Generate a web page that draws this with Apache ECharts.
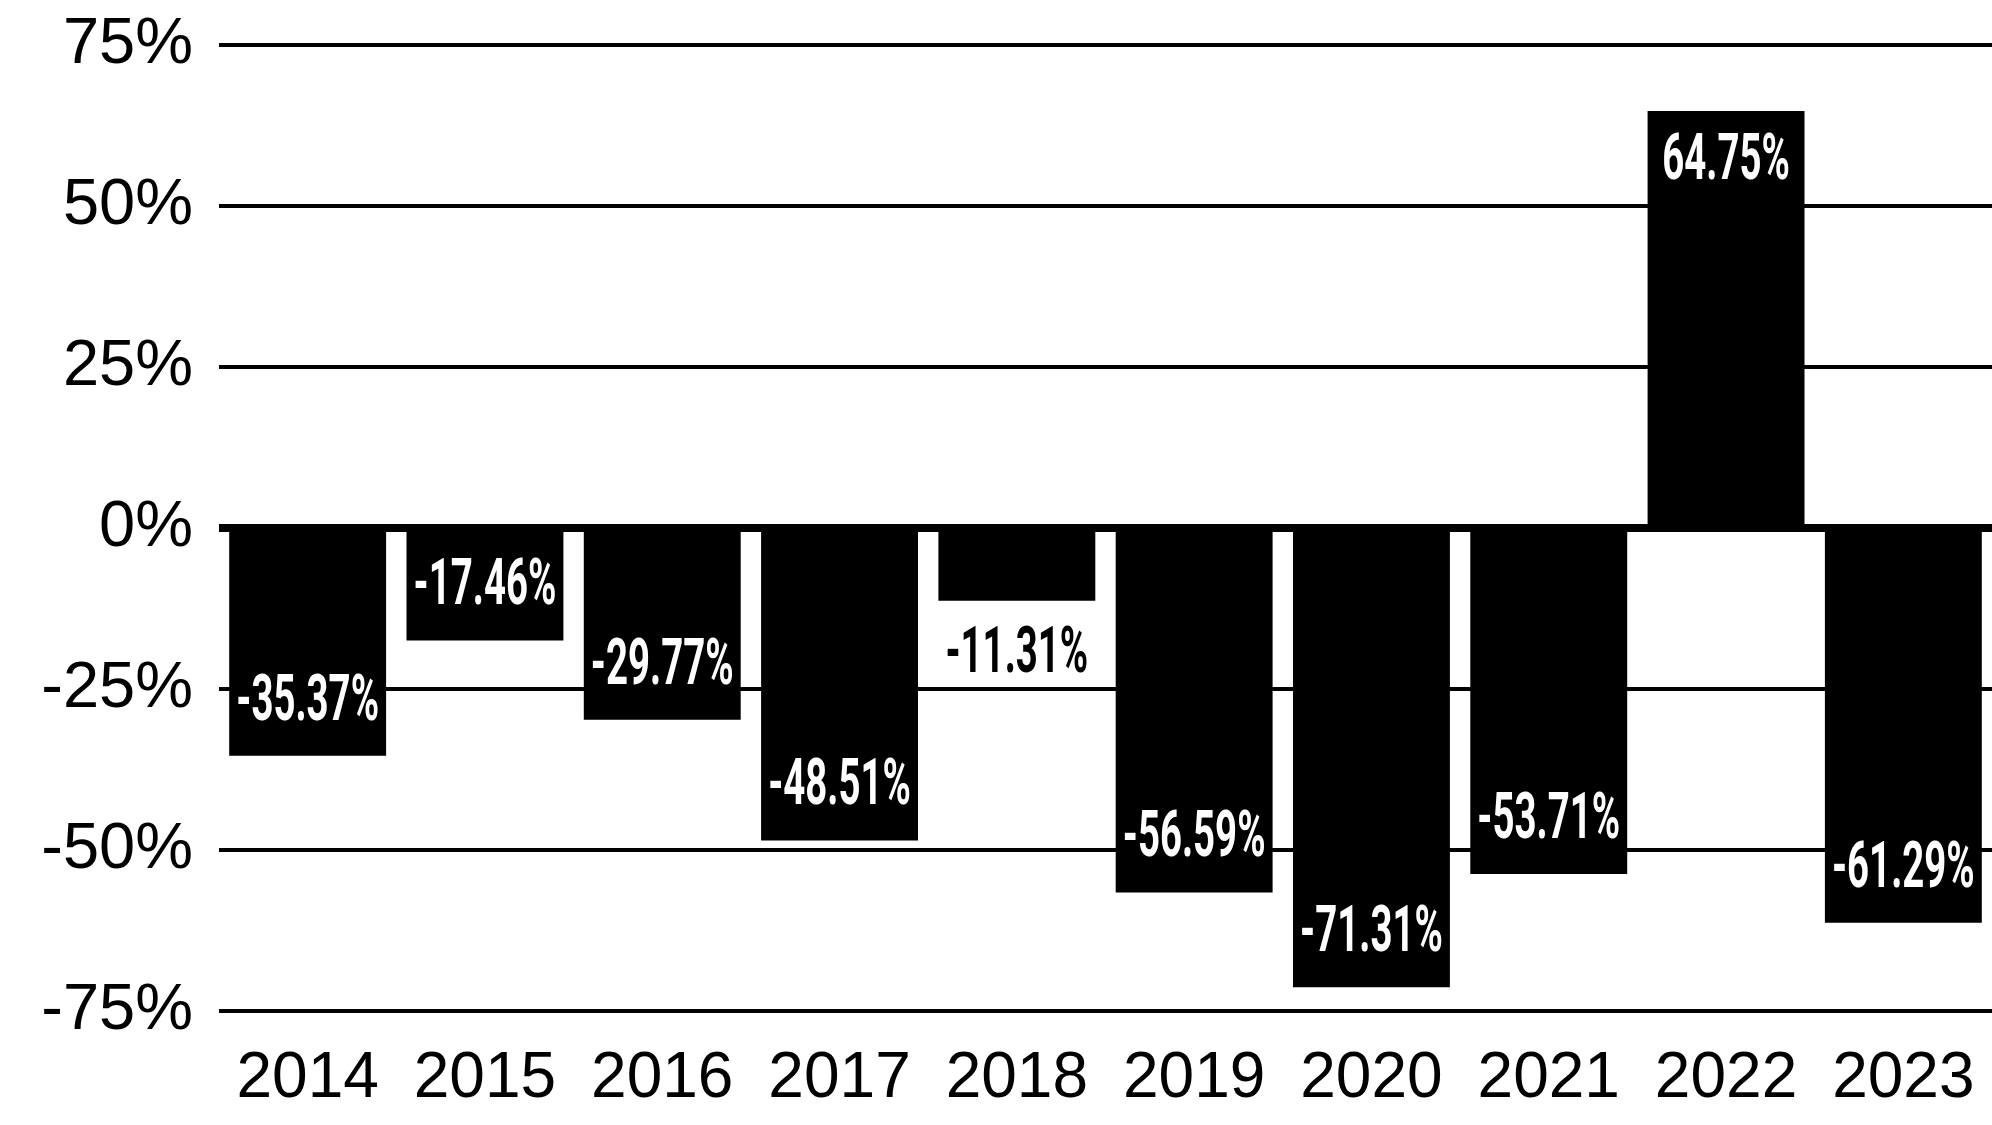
<!DOCTYPE html>
<html><head><meta charset="utf-8">
<script src="https://cdn.jsdelivr.net/npm/echarts@6/dist/echarts.min.js"></script>
<style>html,body{margin:0;padding:0;background:#fff}#c{width:1992px;height:1125px}</style>
</head><body><div id="c"></div>
<script>
const years = ['2014','2015','2016','2017','2018','2019','2020','2021','2022','2023'];
const returns = [-35.37, -17.46, -29.77, -48.51, -11.31, -56.59, -71.31, -53.71, 64.75, -61.29];
const yMin = -75, yMax = 75, yStep = 25;

function fmt(v){ return v.toFixed(2) + '%'; }

const labelData = returns.map((v, i) => [i, v]);

function renderLabel(params, api){
  const idx = api.value(0), v = api.value(1);
  const end = api.coord([idx, v]);
  const base = api.coord([idx, 0]);
  const h = Math.abs(end[1] - base[1]);
  const dir = v < 0 ? 1 : -1;
  const inside = h > 100;
  const y = inside ? end[1] - dir * 52 : end[1] + dir * 55;
  return {
    type: 'text', x: end[0], y: y, scaleX: 0.6,
    style: { text: fmt(v), fill: inside ? '#fff' : '#000', font: 'bold 64px Roboto', align: 'center', verticalAlign: 'middle' }
  };
}

const chart = echarts.init(document.getElementById('c'), null, {renderer:'canvas'});
chart.setOption({
  animation: false,
  backgroundColor: '#fff',
  grid: { left: 219, right: 0, top: 45, bottom: 114, containLabel: false },
  xAxis: {
    type: 'category', data: years,
    axisLine: { show: false }, axisTick: { show: false },
    axisLabel: { interval: 0, color: '#000', fontSize: 64, fontFamily: '"Liberation Sans", Arial, sans-serif', margin: 36 }
  },
  yAxis: {
    type: 'value', min: yMin, max: yMax, interval: yStep,
    axisLine: { show: false }, axisTick: { show: false },
    axisLabel: { color: '#000', fontSize: 65, fontFamily: '"Liberation Sans", Arial, sans-serif', margin: 26, formatter: '{value}%', padding: [10, 0, 0, 0] },
    splitLine: { lineStyle: { color: '#000', width: 4 } }
  },
  series: [
    {
      type: 'bar', data: returns, barCategoryGap: '11.5%',
      itemStyle: { color: '#000' },
      markLine: { silent: true, symbol: 'none', label: { show: false },
        lineStyle: { color: '#000', width: 8, type: 'solid' }, data: [{ yAxis: 0 }] }
    },
    { type: 'custom', data: labelData, renderItem: renderLabel, z: 5 }
  ]
});
</script></body></html>
